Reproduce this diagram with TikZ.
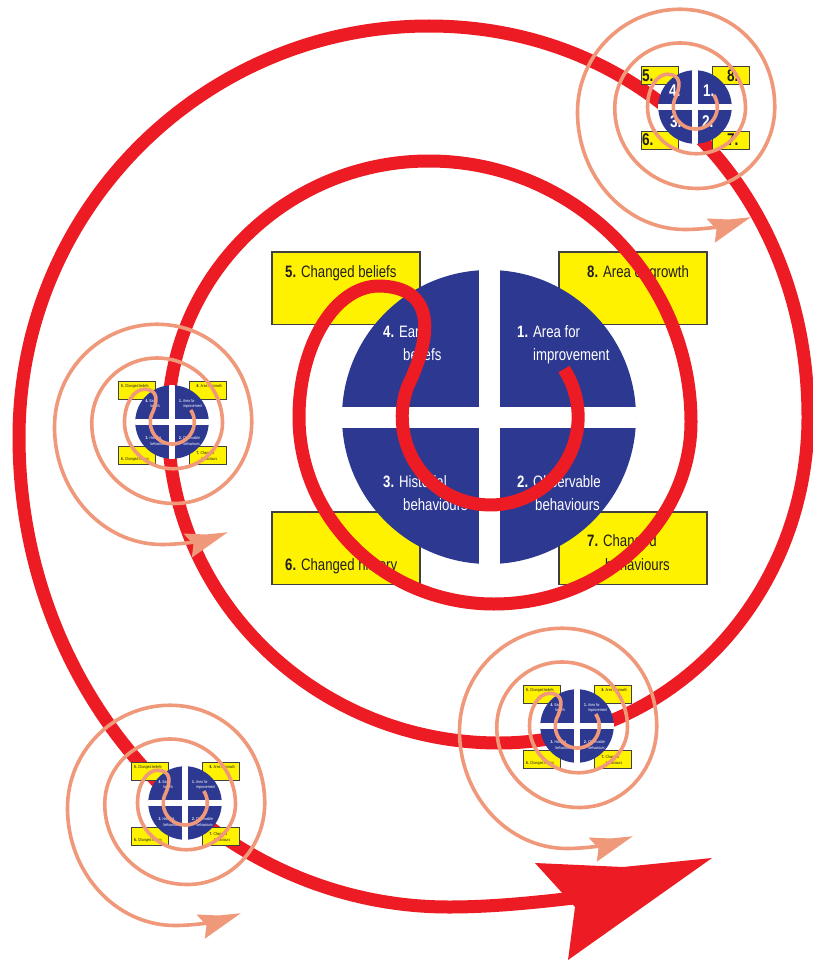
\documentclass[tikz,border=0pt]{standalone}
\usepackage{fontspec}
\setmainfont{Liberation Sans}[FakeStretch=0.8]
\definecolor{dblue}{RGB}{45,56,145}
\definecolor{dyellow}{RGB}{255,242,0}
\definecolor{boxline}{RGB}{64,64,64}
\definecolor{sred}{RGB}{237,28,36}
\definecolor{salmon}{RGB}{240,152,122}
\definecolor{txt}{RGB}{35,31,32}
\tikzset{
  lab/.style={anchor=base west, inner sep=0pt, font=\fontsize{16.5}{20}\selectfont},
  labk/.style={lab, text=txt},
  labw/.style={lab, text=white},
  num/.style={anchor=base west, inner sep=0pt, font=\fontsize{68}{70}\selectfont\bfseries},
}
\newcommand\DBase[1]{%
  \foreach \bx/\by in {-217/-165, 70/-165, -217/95, 70/95}{
    \filldraw[fill=dyellow, draw=boxline, line width=#1] (\bx,\by) rectangle ++(148,72.5);
  }
  \fill[dblue] (0,0) circle (147);
  \begin{scope}
    \clip (0,0) circle (147.5);
    \fill[white] (-10.5,-150) rectangle (10.5,150);
    \fill[white] (-150,-10.5) rectangle (150,10.5);
  \end{scope}
}
\newcommand\DLabels[1]{%
  \node[labk] (#1b5) at (-204,-140) {\textbf{5.} Changed beliefs};
  \node[labk] (#1b8) at (98,-140) {\textbf{8.} Area of growth};
  \node[labw] (#1q4a) at (-106,-80) {\textbf{4.} Early};
  \node[labw] (#1q4b) at (-86,-57) {beliefs};
  \node[labw] (#1q1a) at (28,-80) {\textbf{1.} Area for};
  \node[labw] (#1q1b) at (44,-57) {improvement};
  \node[labw] (#1q3a) at (-106,70) {\textbf{3.} Historial};
  \node[labw] (#1q3b) at (-86,93) {behaviours};
  \node[labw] (#1q2a) at (28,70) {\textbf{2.} Observable};
  \node[labw] (#1q2b) at (46,93) {behaviours};
  \node[labk] (#1b6) at (-204,153) {\textbf{6.} Changed history};
  \node[labk] (#1b7a) at (98,129) {\textbf{7.} Changed};
  \node[labk] (#1b7b) at (116,153) {behaviours};
}
\newcommand\DNums{%
  \node[num, text=txt] (n5) at (-212,-100) {5.};
  \node[num, text=txt] (n8) at (128,-100) {8.};
  \node[num, text=txt] (n6) at (-212,156) {6.};
  \node[num, text=txt] (n7) at (128,156) {7.};
  \node[num, text=white] (n4) at (-104,-40) {4.};
  \node[num, text=white] (n1) at (32,-40) {1.};
  \node[num, text=white] (n3) at (-100,84) {3.};
  \node[num, text=white] (n2) at (28,84) {2.};
}
\newcommand\Spiral[2]{%
  \draw[draw=#1, line width=#2]
    plot[domain=-33:200, samples=50, variable=\t] ({1.2+88*cos(\t)},{88*sin(\t)})
    .. controls (-55,-85) and (-55,-130) .. (-110,-131)
    .. controls (-154,-131) and (-190,-72) .. (-190,0)
    .. controls (-190,103) and (-103,187) .. (5,187)
    .. controls (114,187) and (202,105) .. (202,5)
    .. controls (202,-139) and (85,-256) .. (-60,-256)
    .. controls (-204,-256) and (-321,-139) .. (-321,5)
    .. controls (-321,182) and (-173,326) .. (10,326)
    .. controls (181,326) and (319,180) .. (319,0)
    .. controls (319,-225) and (155,-391) .. (-60,-391)
    .. controls (-286,-391) and (-470,-207) .. (-470,20)
    .. controls (-470,279) and (-277,490) .. (-40,490)
    .. controls (10,490) and (60,484) .. (110,478);
  \fill[#1] (46,446) -- (134,450) -- (223,441) -- (79,543) -- (86,490) -- cycle;
}
\begin{document}
\begin{tikzpicture}[x=1pt,y=-1pt]
\fill[white] (0,0) rectangle (813,963);
\useasboundingbox (0,0) rectangle (813,963);
% main diagram
\begin{scope}[shift={(489,417)}]
  \DBase{1.5pt}
  \DLabels{m}
  \Spiral{sred}{13pt}
\end{scope}
% small copies
\foreach \cx/\cy/\nm in {172/422/l, 185/803/bl, 577/726/br}{
  \begin{scope}[shift={(\cx,\cy)}, scale=0.25, transform shape]
    \DBase{0.4pt}
    \DLabels{\nm}
    \Spiral{salmon}{3.6pt}
  \end{scope}
}
\begin{scope}[shift={(695,107)}, scale=0.25, transform shape]
  \DBase{0.4pt}
  \DNums
  \Spiral{salmon}{3.6pt}
\end{scope}
\end{tikzpicture}
\end{document}
